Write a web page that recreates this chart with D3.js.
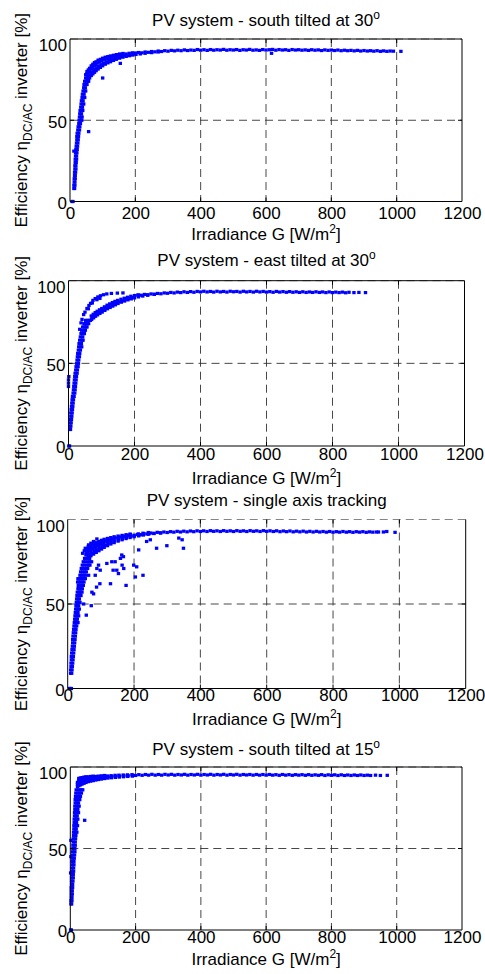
<!DOCTYPE html>
<html>
<head>
<meta charset="utf-8">
<script src="https://cdn.jsdelivr.net/npm/d3@7"></script>
<style>
  body { margin: 0; background: #fff; }
  svg { display: block; font-family: "Liberation Sans", Arial, sans-serif; }
</style>
</head>
<body>
<div id="chart"></div>
<script>
const xTicks = [0, 200, 400, 600, 800, 1000, 1200];
const yTicks = [0, 50, 100];
const titles = [
  "PV system - south tilted at 30",
  "PV system - east tilted at 30",
  "PV system - single axis tracking",
  "PV system - south tilted at 15",
];
const titleSup = ["o", "o", "", "o"];

// [irradiance W/m2, efficiency %]
const south30 = [
  [6,0],[9,0],
  [12,8],[14,8],[12,10],[15,10],[13,12],[15,12],[13,14],[16,14],[14,16],[16,16],[14,18],[17,18],[15,20],[18,20],
  [15,22],[18,22],[16,24],[19,24],[16,26],[20,26],[17,28],[20,28],[17,30],[21,30],[12,31],[18,32],[22,32],
  [19,34],[23,34],[20,36],[24,36],[21,38],[25,38],[21,40],[26,40],[22,42],[27,42],[24,44],[29,44],[25,46],[30,46],
  [27,48],[32,48],[28,50],[33,50],[36,50],[29,52],[34,52],[37,52],[30,54],[35,54],[31,56],[36,56],[39,56],
  [33,58],[38,58],[34,60],[39,60],[42,60],[35,62],[40,62],[37,64],[42,64],[45,64],[38,66],[43,66],[40,68],[45,68],
  [48,68],[42,70],[47,70],[43,72],[48,72],[52,72],[45,74],[50,74],[54,74],[57,74],
  [48,76],[48,78],[52,74.5],[53,76.5],[51,78.5],[52,80],[56,75.5],[57,77.5],[55,79.5],[56,81],
  [60,76],[61,78],[59,80],[60,82],[65,77.5],[66,79.5],[64,81.5],[65,83.5],[70,78.5],[71,80.5],[69,82.5],[70,84.5],
  [75,79.5],[76,81.5],[74,83.5],[75,85.5],[80,80.5],[82,82.3],[79,84.2],[80,86],[86,81.5],[88,83.3],[85,85.2],[86,87],
  [93,82.5],[95,84.2],[91,86],[93,87.5],[100,83.5],[102,85],[98,86.7],[100,88.2],[108,84.5],[110,86],[106,87.5],[108,88.8],
  [116,85.3],[118,86.7],[114,88.1],[116,89.2],[124,86],[126,87.3],[122,88.5],[124,89.6],
  [133,86.8],[135,88],[131,89.1],[133,90],[142,87.5],[144,88.6],[140,89.6],[142,90.4],
  [152,88.2],[154,89.2],[150,90],[152,90.8],[162,88.8],[164,89.8],[160,90.5],[162,91.1],
  [172,89.3],[174,90.1],[171,90.8],[182,89.7],[184,90.5],[181,91.2],[192,90.1],[194,90.8],[191,91.5],
  [202,90.5],[215,90.8],[230,91.2],[250,91.6],[270,92],
  [57,43],[100,76],[154,85],[617,91.2],
  [200,91.4],[210,91.7],[220,91.5],[230,92.0],[240,91.8],[250,92.3],[260,92.1],[270,92.6],[280,92.3],[290,92.8],
  [300,92.5],[310,93.0],[320,92.7],[330,93.1],[340,92.8],[350,93.3],[360,92.9],[370,93.2],[380,93.0],[390,93.5],
  [400,93.1],[410,93.4],[420,93.0],[430,93.5],[440,93.1],[450,93.4],[460,93.2],[470,93.6],[480,93.1],[490,93.4],
  [500,93.2],[510,93.5],[520,93.0],[530,93.4],[540,93.2],[550,93.6],[560,93.1],[570,93.3],[580,93.0],[590,93.5],
  [600,93.2],[610,93.4],[620,93.6],[630,93.1],[640,93.5],[650,93.2],[660,93.4],[670,93.0],[680,93.5],[690,93.2],
  [700,93.4],[710,93.1],[720,93.3],[730,93.0],[740,93.4],[750,93.1],[760,93.3],[770,92.9],[780,93.3],[790,93.0],
  [800,93.2],[810,92.9],[820,93.2],[830,92.8],[840,93.1],[850,92.8],[860,93.0],[870,92.7],[880,93.0],[890,92.6],
  [900,92.9],[910,92.6],[920,92.8],[930,92.5],[940,92.8],[950,92.4],[960,92.7],[970,92.4],[980,92.6],[990,92.5],
  [1013,92.4],
];

const east30 = [
  [1,0],[3,0],[0,36],[0,38],[0,40],[1,42],
  [4,10],[6,10],[5,12],[7,12],[5,14],[8,14],[6,16],[9,16],[7,18],[10,18],[7,20],[11,20],[8,22],[12,22],
  [9,24],[13,24],[10,26],[14,26],[11,28],[15,28],[12,30],[17,30],[14,32],[19,32],[15,34],[20,34],[16,36],[21,36],
  [17,38],[22,38],[18,40],[23,40],[19,42],[24,42],[20,44],[26,44],[22,46],[27,46],[23,48],[29,48],[25,50],[30,50],
  [26,52],[31,52],[27,54],[33,54],[28,56],[34,56],[30,58],[36,58],[31,60],[37,60],[40,60],[32,62],[39,62],
  [34,64],[41,64],[44,64],[36,66],[43,66],[38,68],[45,68],[48,68],[40,70],[47,70],[51,70],[43,72],[48,72],[53,72],[56,72],
  [47,74],[52,74],[57,74],[61,74],[52,76],[57,76],[62,76],[66,76],
  [70,76.5],[71,77.6],[69,78.7],[76,77.5],[77,78.6],[75,79.7],[82,78.5],[83,79.6],[81,80.7],[88,79.3],[89,80.4],[87,81.5],
  [95,80.2],[96,81.3],[94,82.4],[102,81],[103,82.1],[101,83.2],[110,82],[111,83.1],[109,84.2],[118,83],[119,84.1],[117,85.2],
  [126,83.8],[127,84.9],[125,86],[134,84.6],[135,85.7],[133,86.8],[142,85.4],[143,86.5],[141,87.5],
  [150,86.2],[151,87.2],[149,88.1],[160,87],[161,87.9],[159,88.8],[170,87.7],[171,88.6],[169,89.4],
  [180,88.4],[181,89.2],[179,90],[190,89],[191,89.8],[189,90.6],[200,89.6],[212,90.2],[212,91.4],[225,90.7],[240,91.2],[260,91.7],
  [34,70.6],[38,74.5],[41,76.6],[46,79.5],[50,81],[56,83.2],[60,83],[62,85],[67,86.3],[72,86.5],[74,88.1],
  [81,89.2],[86,88.5],[89,90.2],[95,89.3],[97,90.9],[106,91.5],[116,92],[130,92.3],[148,92.5],[165,92.6],
  [200,91.0],[210,91.3],[220,91.2],[230,91.7],[240,91.5],[250,92.0],[260,91.8],[270,92.3],[280,92.1],[290,92.6],
  [300,92.4],[310,92.9],[320,92.6],[330,93.1],[340,92.8],[350,93.3],[360,92.9],[370,93.4],[380,93.0],[390,93.5],
  [400,93.2],[410,93.6],[420,93.2],[430,93.5],[440,93.1],[450,93.6],[460,93.2],[470,93.5],[480,93.1],[490,93.6],
  [500,93.3],[510,93.5],[520,93.1],[530,93.6],[540,93.2],[550,93.5],[560,93.1],[570,93.6],[580,93.2],[590,93.5],
  [600,93.1],[610,93.4],[620,93.0],[630,93.5],[640,93.1],[650,93.4],[660,93.0],[670,93.4],[680,93.0],[690,93.3],
  [700,92.9],[710,93.3],[720,92.9],[730,93.2],[740,92.9],[750,93.3],[760,92.9],[770,93.2],[780,92.8],[790,93.2],
  [800,92.8],[810,93.1],[820,92.8],[830,93.1],[840,92.7],[850,93.0],[865,92.8],[880,92.9],[900,92.8],
];

const tracking = [
  [5,0],[8,0],[11,0],
  [9,9],[12,9],[9,11],[13,11],[10,13],[14,13],[10,15],[15,15],[11,17],[16,17],[11,19],[17,19],[12,21],[18,21],
  [13,23],[19,23],[14,25],[20,25],[15,27],[21,27],[15,29],[22,29],[16,31],[23,31],[17,33],[24,33],[18,35],[25,35],
  [19,37],[23,37],[27,37],[20,39],[24,39],[28,39],[31,39],[21,41],[25,41],[29,41],[22,43],[26,43],[30,43],[33,43],
  [23,45],[27,45],[31,45],[24,47],[28,47],[32,47],[35,47],[25,49],[29,49],[33,49],[26,51],[30,51],[34,51],[37,51],
  [27,53],[31,53],[35,53],[28,55],[33,55],[37,55],[40,55],[29,57],[34,57],[38,57],[43,57],[31,59],[36,59],[40,59],[44,59],
  [32,61],[37,61],[42,61],[47,61],[34,63],[39,63],[44,63],[49,63],[35,65],[40,65],[45,65],[50,65],[53,65],
  [37,67],[42,67],[48,67],[53,67],[39,69],[45,69],[51,69],[56,69],[41,71],[47,71],[54,71],[60,71],
  [44,73],[50,73],[57,73],[63,73],[67,73],[47,75],[54,75],[61,75],[67,75],[72,75],[51,77],[58,77],[66,77],
  [55,79],[56,80.5],[55,82],[62,78],[63,79.5],[61,81],[63,82.5],[62,84],[70,78.5],[71,80],[69,81.5],[71,83],[70,84.5],
  [78,79.5],[79,81],[77,82.5],[79,84],[78,85.5],[86,80.5],[87,82],[85,83.5],[87,85],[86,86.3],
  [94,81.5],[95,83],[93,84.5],[95,85.8],[94,87],[102,82.5],[103,84],[101,85.3],[103,86.5],[102,87.7],
  [110,83.5],[111,84.8],[109,86],[111,87.2],[110,88.3],[120,84.5],[121,85.7],[119,86.8],[121,87.8],[120,88.8],
  [130,85.5],[131,86.5],[129,87.6],[131,88.5],[130,89.3],[140,86.3],[141,87.3],[139,88.3],[141,89.1],[140,89.8],
  [152,87.2],[153,88.1],[151,89],[153,89.6],[152,90.2],[164,88],[165,88.8],[163,89.6],[165,90.1],[164,90.6],
  [176,88.7],[177,89.4],[175,90.1],[177,90.6],[176,91],[188,89.3],[189,90],[187,90.6],[189,91.1],[188,91.4],
  [200,89.8],[201,90.3],[214,90.3],[215,90.9],[213,91.5],[228,90.8],[229,91.4],[227,91.9],
  [244,91.3],[245,91.8],[243,92.3],[260,91.7],[280,92],
  [45,80],[50,81.5],[53,83],[60,81.5],[63,85],[70,86],[78,87],[88,88.5],
  [31,65],[30,63],[33,60],[35,55],[48,50],[56,43.4],[71,49],[73,57],[78,56],[87,60],[97,62],[63,67],[83,67],
  [88,71],[93,73],[98,70],[118,74],[129,62],[133,75],[137,70],[143,75],[148,70],[153,68],[159,77],[163,79],
  [164,73],[168,78],[169,71],[176,61],[199,73],[204,66],[208,72],[214,82],[227,67],[238,87],[249,88],[268,83],
  [299,84.5],[335,89],[345,88],[349,83],
  [200,90.6],[210,91.1],[220,91.0],[230,91.6],[240,91.4],[250,92.0],[260,91.8],[270,92.4],[280,92.1],[290,92.6],
  [300,92.3],[310,92.8],[320,92.5],[330,93.0],[340,92.6],[350,93.1],[360,92.7],[370,93.2],[380,92.8],[390,93.3],
  [400,92.9],[410,93.3],[420,92.9],[430,93.4],[440,93.0],[450,93.3],[460,92.9],[470,93.4],[480,93.0],[490,93.3],
  [500,92.9],[510,93.4],[520,93.0],[530,93.3],[540,92.9],[550,93.4],[560,93.0],[570,93.3],[580,92.9],[590,93.4],
  [600,93.0],[610,93.3],[620,92.9],[630,93.3],[640,92.8],[650,93.2],[660,92.8],[670,93.2],[680,92.7],[690,93.1],
  [700,92.7],[710,93.1],[720,92.6],[730,93.0],[740,92.6],[750,93.0],[760,92.6],[770,92.9],[780,92.5],[790,92.9],
  [800,92.5],[810,92.8],[820,92.5],[830,92.9],[840,92.5],[850,92.8],[860,92.4],[870,92.8],[880,92.5],[890,92.8],
  [900,92.4],[910,92.7],[920,92.5],[931,92.6],[937,92.6],[952,92.6],[962,92.9],[987,92.4],
];

const south15 = [
  [1,0],[3,0],[1,35],[2,45],[2,55],
  [2,16],[4,16],[2,18],[5,18],[3,20],[5,20],[3,22],[6,22],[3,24],[6,24],[3,26],[7,26],[4,28],[7,28],[4,30],[8,30],
  [4,32],[9,32],[5,34],[9,34],[5,36],[10,36],[5,38],[10,38],[6,40],[11,40],[6,42],[11,42],[7,44],[12,44],
  [7,46],[13,46],[7,48],[14,48],[8,50],[14,50],[8,52],[15,52],[9,54],[15,54],[9,56],[16,56],[10,58],[17,58],
  [10,60],[14,60],[17,60],[20,60],[11,62],[15,62],[18,62],[11,64],[15,64],[19,64],[22,64],[12,66],[16,66],[19,66],
  [12,68],[16,68],[20,68],[23,68],[13,70],[17,70],[21,70],[13,72],[18,72],[22,72],[25,72],[14,74],[19,74],[23,74],
  [14,76],[19,76],[24,76],[27,76],[15,78],[20,78],[25,78],[15,80],[21,80],[26,80],[29,80],[16,82],[22,82],[27,82],[31,82],
  [17,84],[23,84],[28,84],[34,84],[18,86],[24,86],[30,86],[35,86],[38,86],
  [22,88],[22,89.3],[22,90.5],[26,88.5],[27,89.8],[25,91],[27,92],[26,93],
  [31,89],[32,90.3],[30,91.5],[32,92.4],[31,93.3],[36,89.5],[37,90.8],[35,92],[37,92.8],[36,93.5],
  [42,90],[43,91.1],[41,92.2],[43,93],[42,93.8],[48,90.5],[49,91.5],[47,92.4],[49,93.2],[48,94],
  [55,91],[56,91.9],[54,92.7],[56,93.4],[55,94],[62,91.3],[63,92.2],[61,93],[63,93.6],[62,94.2],
  [70,91.6],[71,92.4],[69,93.2],[71,93.8],[70,94.4],[78,92],[79,92.8],[77,93.5],[78,94.2],
  [86,92.3],[87,93.1],[85,93.8],[86,94.4],[95,92.6],[96,93.3],[94,94],[95,94.6],[105,92.9],[106,93.6],[104,94.3],[105,94.8],
  [115,93.2],[116,93.9],[114,94.5],[126,93.4],[127,94.1],[125,94.7],[138,93.6],[139,94.3],[137,94.9],
  [150,93.8],[151,94.4],[149,95],[163,94],[164,94.6],[162,95.1],[176,94.2],[177,94.7],[175,95.2],[190,94.4],[191,94.9],[189,95.3],
  [44,67.3],
  [200,94.8],[210,95.3],[220,94.9],[230,95.4],[240,95.0],[250,95.5],[260,95.0],[270,95.4],[280,95.0],[290,95.5],
  [300,95.1],[310,95.5],[320,95.0],[330,95.4],[340,95.1],[350,95.5],[360,95.0],[370,95.4],[380,95.1],[390,95.5],
  [400,95.0],[410,95.4],[420,95.1],[430,95.5],[440,95.0],[450,95.4],[460,95.1],[470,95.5],[480,95.0],[490,95.4],
  [500,95.1],[510,95.5],[520,95.0],[530,95.4],[540,95.1],[550,95.4],[560,95.0],[570,95.4],[580,95.0],[590,95.4],
  [600,95.0],[610,95.4],[620,95.0],[630,95.3],[640,94.9],[650,95.4],[660,95.0],[670,95.3],[680,94.9],[690,95.3],
  [700,95.0],[710,95.3],[720,94.9],[730,95.3],[740,94.9],[750,95.2],[760,94.9],[770,95.3],[780,94.8],[790,95.2],
  [800,94.9],[810,95.2],[820,94.8],[830,95.2],[840,94.8],[850,95.1],[860,94.8],[870,95.1],[880,94.8],[890,95.1],
  [900,94.8],[910,95.0],[920,94.8],[935,95.0],[950,94.8],[971,94.9],
];

const seriesList = [south30, east30, tracking, south15];

const panels = [
  { left: 70, right: 462, top: 39, bottom: 201.5, titleY: 26, tickY: 219, xlabelY: 240 },
  { left: 68.5, right: 464.5, top: 280.7, bottom: 446, titleY: 266, tickY: 460, xlabelY: 484 },
  { left: 67.7, right: 465.7, top: 519.5, bottom: 688.5, titleY: 506, tickY: 700.5, xlabelY: 725, openTop: true },
  { left: 70.3, right: 462, top: 767, bottom: 930, titleY: 755, tickY: 943, xlabelY: 965 },
];

const width = 485, height = 974;
const svg = d3.select("#chart").append("svg")
  .attr("width", width).attr("height", height);

panels.forEach((p, i) => drawPanel(p, i));

function drawPanel(p, i) {
  const x = d3.scaleLinear().domain([0, 1200]).range([p.left, p.right]);
  const y = d3.scaleLinear().domain([0, 100]).range([p.bottom, p.top]);
  const g = svg.append("g");

  // dashed grid
  g.selectAll(".vgrid").data(xTicks.slice(1, -1)).enter().append("line")
    .attr("x1", d => x(d)).attr("x2", d => x(d))
    .attr("y1", p.top).attr("y2", p.bottom)
    .attr("stroke", "#333").attr("stroke-width", 0.9).attr("stroke-dasharray", "8,5");
  g.selectAll(".hgrid").data(yTicks.slice(1)).enter().append("line")
    .attr("x1", p.left).attr("x2", p.right)
    .attr("y1", d => y(d)).attr("y2", d => y(d))
    .attr("stroke", d => d === 100 ? "#777" : "#333").attr("stroke-width", 0.9)
    .attr("stroke-dasharray", "8,5");

  // points
  g.append("g").selectAll("rect").data(seriesList[i]).enter().append("rect")
    .attr("x", d => x(d[0]) - 1.7).attr("y", d => y(d[1]) - 1.6)
    .attr("width", 3.4).attr("height", 3.2)
    .attr("fill", "#0000ff");

  // box
  const box = p.openTop
    ? `M${p.right},${p.top}V${p.bottom}H${p.left}V${p.top}`
    : `M${p.left},${p.top}H${p.right}V${p.bottom}H${p.left}Z`;
  g.append("path").attr("d", box).attr("fill", "none")
    .attr("stroke", "#000").attr("stroke-width", 1);

  // inward ticks
  g.selectAll(".xt").data(xTicks.slice(1, -1)).enter().append("path")
    .attr("d", d => `M${x(d)},${p.bottom}v-4M${x(d)},${p.top}v4`)
    .attr("stroke", "#000").attr("stroke-width", 1);
  g.selectAll(".yt").data(yTicks.slice(1, -1)).enter().append("path")
    .attr("d", d => `M${p.left},${y(d)}h4M${p.right},${y(d)}h-4`)
    .attr("stroke", "#000").attr("stroke-width", 1);

  // axes (labels only)
  const xa = g.append("g").attr("transform", `translate(0,${p.bottom})`)
    .call(d3.axisBottom(x).tickValues(xTicks).tickSize(0).tickFormat(d3.format("d")));
  xa.select(".domain").remove();
  xa.selectAll("text").attr("y", p.tickY - p.bottom).attr("dy", null)
    .attr("font-size", 17).attr("font-family", "Liberation Sans, Arial, sans-serif").attr("fill", "#000");

  const ya = g.append("g").attr("transform", `translate(${p.left},0)`)
    .call(d3.axisLeft(y).tickValues(yTicks).tickSize(0).tickFormat(d3.format("d")));
  ya.select(".domain").remove();
  ya.selectAll("text").attr("x", -3).attr("dy", d => d === 100 ? "0.7em" : "0.4em")
    .attr("font-size", 17).attr("font-family", "Liberation Sans, Arial, sans-serif").attr("fill", "#000");

  // title
  const cx = (p.left + p.right) / 2;
  const t = g.append("text").attr("x", cx).attr("y", p.titleY)
    .attr("text-anchor", "middle").attr("font-size", 17);
  t.append("tspan").text(titles[i]);
  if (titleSup[i]) t.append("tspan").attr("dy", -7).attr("font-size", 12).text(titleSup[i]);

  // x label
  const xl = g.append("text").attr("x", cx).attr("y", p.xlabelY)
    .attr("text-anchor", "middle").attr("font-size", 17);
  xl.append("tspan").text("Irradiance G [W/m");
  xl.append("tspan").attr("dy", -7).attr("font-size", 12).text("2");
  xl.append("tspan").attr("dy", 7).text("]");

  // y label
  const cy = (p.top + p.bottom) / 2;
  const yl = g.append("text").attr("transform", `translate(27,${cy}) rotate(-90)`)
    .attr("text-anchor", "middle").attr("font-size", 17);
  yl.append("tspan").text("Efficiency \u03b7");
  yl.append("tspan").attr("dy", 5).attr("font-size", 12).text("DC/AC");
  yl.append("tspan").attr("dy", -5).text(" inverter [%]");
}
</script>
</body>
</html>
